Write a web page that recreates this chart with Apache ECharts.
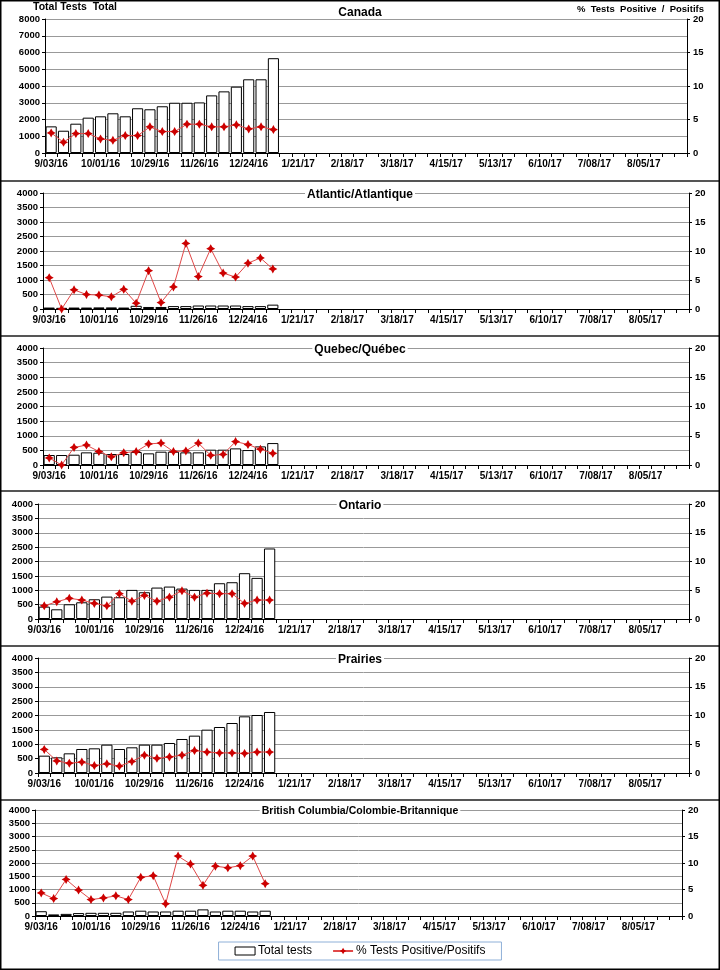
<!DOCTYPE html>
<html>
<head>
<meta charset="utf-8">
<script src="https://cdn.jsdelivr.net/npm/echarts@6/dist/echarts.min.js"></script>
<style>
html,body{margin:0;padding:0;background:#fff;}
#chart{width:720px;height:970px;}
</style>
</head>
<body>
<div id="chart"></div>
<script>
const categories = ['9/03/16','9/10/16','9/17/16','9/24/16','10/01/16','10/08/16','10/15/16','10/22/16','10/29/16','11/05/16','11/12/16','11/19/16','11/26/16','12/03/16','12/10/16','12/17/16','12/24/16','12/31/16','1/07/17','1/14/17','1/21/17','1/28/17','2/04/17','2/11/17','2/18/17','2/25/17','3/04/17','3/11/17','3/18/17','3/25/17','4/01/17','4/08/17','4/15/17','4/22/17','4/29/17','5/06/17','5/13/17','5/20/17','5/27/17','6/03/17','6/10/17','6/17/17','6/24/17','7/01/17','7/08/17','7/15/17','7/22/17','7/29/17','8/05/17','8/12/17','8/19/17','8/26/17'];

const regionNames = ['Canada','Atlantic/Atlantique','Quebec/Québec','Ontario','Prairies','British Columbia/Colombie-Britannique'];

const canadaTests = [1590,1330,1750,2110,2190,2370,2190,2670,2610,2790,3000,3000,3020,3440,3680,3960,4400,4400,5660];
const canadaPos   = [3.0,1.6,2.9,2.9,2.1,1.9,2.6,2.6,3.9,3.2,3.2,4.3,4.3,3.9,3.9,4.2,3.6,3.9,3.5];
const atlanticTests = [50,40,50,50,55,55,50,110,70,70,100,100,120,120,120,120,100,100,150];
const atlanticPos   = [5.4,0,3.3,2.5,2.4,2.1,3.4,1.0,6.6,1.1,3.8,11.3,5.6,10.4,6.2,5.5,7.9,8.8,6.9];
const quebecTests = [341,341,352,432,420,375,375,443,398,455,455,432,432,523,523,568,511,636,750];
const quebecPos   = [1.2,0,3.0,3.4,2.3,1.4,2.1,2.3,3.6,3.75,2.3,2.4,3.75,1.65,1.8,4.0,3.5,2.7,2.0];
const ontarioTests = [430,337,512,581,686,779,756,1012,930,1093,1128,1058,1012,1012,1244,1279,1593,1430,2453];
const ontarioPos   = [2.3,3.0,3.6,3.3,2.7,2.3,4.4,3.1,4.1,3.1,3.8,4.9,3.8,4.5,4.4,4.4,2.7,3.3,3.3];
const prairiesTests = [603,545,684,835,858,986,835,893,986,986,1043,1183,1299,1507,1600,1739,1971,2017,2122];
const prairiesPos   = [4.1,2.1,1.7,1.9,1.3,1.6,1.2,2.0,3.1,2.55,2.8,3.1,3.9,3.65,3.5,3.5,3.4,3.65,3.65];
const bcTests = [180,60,80,110,120,120,120,170,200,170,170,200,200,250,170,200,200,170,200];
const bcPos   = [4.35,3.3,6.9,4.9,3.1,3.4,3.8,3.1,7.3,7.6,2.3,11.3,9.8,5.8,9.4,9.1,9.5,11.3,6.1];

const testsMax = [8000,4000,4000,4000,4000,4000];
const testsStep = [1000,500,500,500,500,500];
const posMax = 20, posStep = 5;

const testsData = [canadaTests, atlanticTests, quebecTests, ontarioTests, prairiesTests, bcTests];
const posData = [canadaPos, atlanticPos, quebecPos, ontarioPos, prairiesPos, bcPos];

// layout
const grids = [
  {left:45, right:33, top:19, height:134},
  {left:43, right:31, top:193, height:116},
  {left:43, right:31, top:348, height:117},
  {left:38, right:31, top:504, height:115},
  {left:38, right:31, top:658, height:115},
  {left:35, right:38, top:810, height:106}
];
const titleY = [14, 196, 351, 507, 661, 813];

const FONT = 'Liberation Sans, Arial, sans-serif';
const starPath = 'path://M0,-10 L3.6,-3.6 L10,0 L3.6,3.6 L0,10 L-3.6,3.6 L-10,0 L-3.6,-3.6 Z';

const xAxes = [], yAxes = [], series = [];
grids.forEach((g, i) => {
  xAxes.push({
    type:'category', gridIndex:i, data:categories, boundaryGap:true,
    axisLine:{show:true, onZero:false, lineStyle:{color:'#000', width:1}},
    axisTick:{show:true, interval:0, length:4, lineStyle:{color:'#000'}},
    axisLabel:{interval:3, color:'#000', fontFamily:FONT, fontWeight:'bold', fontSize:10, margin:6},
    splitLine:{show:false}
  });
  yAxes.push({
    type:'value', gridIndex:i, min:0, max:testsMax[i], interval:testsStep[i], position:'left',
    axisLine:{show:true, lineStyle:{color:'#000'}},
    axisTick:{show:true, length:3, lineStyle:{color:'#000'}},
    axisLabel:{color:'#000', fontFamily:FONT, fontWeight:'bold', fontSize:9.5, margin:5, formatter:v => String(v)},
    splitLine:{show:true, lineStyle:{color:'#999', width:1}}
  });
  yAxes.push({
    type:'value', gridIndex:i, min:0, max:posMax, interval:posStep, position:'right',
    axisLine:{show:true, lineStyle:{color:'#000'}},
    axisTick:{show:true, length:3, lineStyle:{color:'#000'}},
    axisLabel:{color:'#000', fontFamily:FONT, fontWeight:'bold', fontSize:9.5, margin:6, formatter:v => String(v)},
    splitLine:{show:false}
  });
  series.push({
    name:'Total tests', type:'bar', xAxisIndex:i, yAxisIndex:i*2,
    data:testsData[i], barCategoryGap:'10%',
    itemStyle:{color:'#fff', borderColor:'#000', borderWidth:1},
    emphasis:{disabled:true}, z:2
  });
  series.push({
    name:'% Tests Positive/Positifs', type:'line', xAxisIndex:i, yAxisIndex:i*2+1,
    data:posData[i], symbol:starPath, symbolSize:9, showAllSymbol:true,
    lineStyle:{color:'#e04848', width:1},
    itemStyle:{color:'#cc0000'},
    emphasis:{disabled:true}, z:3
  });
});

const graphics = [];
regionNames.forEach((name, i) => {
  graphics.push({
    type:'text', left:'center', top:titleY[i]-7, z:100,
    style:{text:name, font:'bold ' + (i===5 ? '10.5px ' : '12px ') + FONT, fill:'#000',
           backgroundColor:'#fff', padding:[0,2,0,2]}
  });
});
graphics.push({type:'text', left:33, top:2, style:{text:'Total Tests  Total', font:'bold 10.5px ' + FONT, fill:'#000'}});
graphics.push({type:'text', right:16, top:4, style:{text:'%  Tests  Positive  /  Positifs', font:'bold 9.5px ' + FONT, fill:'#000'}});
[181, 336, 491, 646, 800].forEach(y => {
  graphics.push({type:'line', shape:{x1:0, y1:y, x2:720, y2:y}, style:{stroke:'#555', lineWidth:2}});
});
graphics.push({type:'rect', shape:{x:0.75, y:0.75, width:718.5, height:968.5}, style:{fill:null, stroke:'#000', lineWidth:1.5}});

const option = {
  animation:false,
  backgroundColor:'#fff',
  grid: grids,
  xAxis: xAxes,
  yAxis: yAxes,
  series: series,
  legend: {
    data:[
      {name:'Total tests', icon:'rect', itemStyle:{color:'#fff', borderColor:'#000', borderWidth:1}},
      {name:'% Tests Positive/Positifs'}
    ],
    left:'center', top:942, itemWidth:20, itemHeight:8, itemGap:20,
    borderColor:'#8fb0d8', borderWidth:1, padding:[3,16,3,16],
    textStyle:{fontFamily:FONT, fontSize:12, color:'#000', padding:[0,0,0,-2]},
    selectedMode:false
  },
  graphic: graphics
};

const chart = echarts.init(document.getElementById('chart'), null, {renderer:'canvas'});
chart.setOption(option);
</script>
</body>
</html>
